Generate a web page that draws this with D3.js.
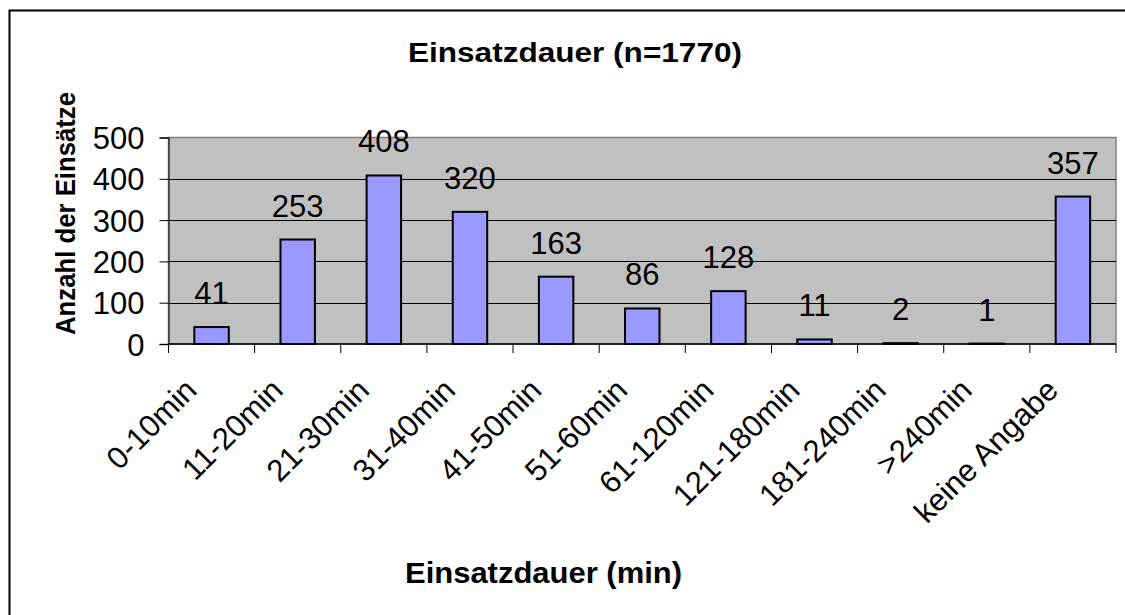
<!DOCTYPE html>
<html>
<head>
<meta charset="utf-8">
<script src="https://cdn.jsdelivr.net/npm/d3@7"></script>
<style>
  html, body { margin: 0; padding: 0; background: #fff; }
  svg { display: block; }
  text { font-family: "Liberation Sans", Arial, sans-serif; fill: #000; }
</style>
</head>
<body>
<svg id="chart" width="1125" height="615"></svg>
<script>
const categories = ["0-10min", "11-20min", "21-30min", "31-40min", "41-50min", "51-60min",
                    "61-120min", "121-180min", "181-240min", ">240min", "keine Angabe"];
const values = [41, 253, 408, 320, 163, 86, 128, 11, 2, 1, 357];
const yTicks = [0, 100, 200, 300, 400, 500];
const titleText = "Einsatzdauer (n=1770)";
const xTitleText = "Einsatzdauer (min)";
const yTitleText = "Anzahl der Einsätze";

const svg = d3.select("#chart");
const W = 1125, H = 615;
const plot = { left: 168.5, right: 1116, top: 137.5, bottom: 344 };

// outer chart border (extends beyond right/bottom edge)
svg.append("rect")
  .attr("x", 9.5).attr("y", 10.5)
  .attr("width", W + 20).attr("height", H + 20)
  .attr("fill", "#fff").attr("stroke", "#000").attr("stroke-width", 2);

const x = d3.scaleBand().domain(categories)
  .range([plot.left, plot.right]).paddingInner(0.6).paddingOuter(0.3);
const y = d3.scaleLinear().domain([0, 500]).range([plot.bottom, plot.top]);

// plot background
svg.append("rect")
  .attr("x", plot.left).attr("y", plot.top)
  .attr("width", plot.right - plot.left).attr("height", plot.bottom - plot.top)
  .attr("fill", "#C0C0C0").attr("stroke", "#808080").attr("stroke-width", 1.5);

// gridlines
svg.append("g").selectAll("line").data(yTicks.filter(d => d > 0 && d < 500)).join("line")
  .attr("x1", plot.left).attr("x2", plot.right)
  .attr("y1", d => Math.round(y(d)) + 0.5).attr("y2", d => Math.round(y(d)) + 0.5)
  .attr("stroke", "#000").attr("stroke-width", 1);

// bars
svg.append("g").selectAll("rect").data(values).join("rect")
  .attr("x", (d, i) => x(categories[i]))
  .attr("y", d => y(d))
  .attr("width", x.bandwidth())
  .attr("height", d => y(0) - y(d))
  .attr("fill", "#9999FF").attr("stroke", "#000").attr("stroke-width", 2);

// data labels
svg.append("g").selectAll("text").data(values).join("text")
  .attr("x", (d, i) => x(categories[i]) + x.bandwidth() / 2)
  .attr("y", d => y(d) - 23)
  .attr("text-anchor", "middle")
  .attr("font-size", 31)
  .text(d => d);

// y axis
const yAxis = d3.axisLeft(y).tickValues(yTicks).tickSize(9).tickPadding(15).tickFormat(d3.format("d"));
const gy = svg.append("g").attr("transform", `translate(${plot.left},0)`).call(yAxis);
gy.select(".domain").attr("stroke", "#333").attr("stroke-width", 1.5);
gy.selectAll(".tick line").attr("stroke", "#000");
gy.selectAll(".tick text").attr("font-size", 31).attr("font-family", "Liberation Sans, Arial, sans-serif").attr("dy", "0.36em").attr("fill", "#000");

// x axis line & tick marks at band boundaries
const step = x.step();
const bounds = d3.range(categories.length + 1).map(i => plot.left + i * step);
svg.append("line")
  .attr("x1", plot.left).attr("x2", plot.right)
  .attr("y1", plot.bottom).attr("y2", plot.bottom)
  .attr("stroke", "#000").attr("stroke-width", 1.5);
svg.append("g").selectAll("line").data(bounds).join("line")
  .attr("x1", d => d).attr("x2", d => d)
  .attr("y1", plot.bottom).attr("y2", plot.bottom + 9)
  .attr("stroke", "#000").attr("stroke-width", 1);

// x labels rotated
svg.append("g").selectAll("text").data(categories).join("text")
  .attr("transform", d => `translate(${x(d) + x.bandwidth() / 2 - 13},${392}) rotate(-45)`)
  .attr("text-anchor", "end")
  .attr("font-size", 31)
  .text(d => d);

// titles
svg.append("text").attr("x", 575).attr("y", 62)
  .attr("text-anchor", "middle").attr("font-size", 27).attr("font-weight", "bold")
  .attr("textLength", 334).attr("lengthAdjust", "spacingAndGlyphs")
  .text(titleText);
svg.append("text").attr("x", 543.5).attr("y", 583)
  .attr("text-anchor", "middle").attr("font-size", 29).attr("font-weight", "bold")
  .attr("textLength", 277).attr("lengthAdjust", "spacingAndGlyphs")
  .text(xTitleText);
svg.append("text").attr("transform", "translate(75,213.5) rotate(-90)")
  .attr("text-anchor", "middle").attr("font-size", 28.5).attr("font-weight", "bold")
  .attr("textLength", 243).attr("lengthAdjust", "spacingAndGlyphs")
  .text(yTitleText);
</script>
</body>
</html>
